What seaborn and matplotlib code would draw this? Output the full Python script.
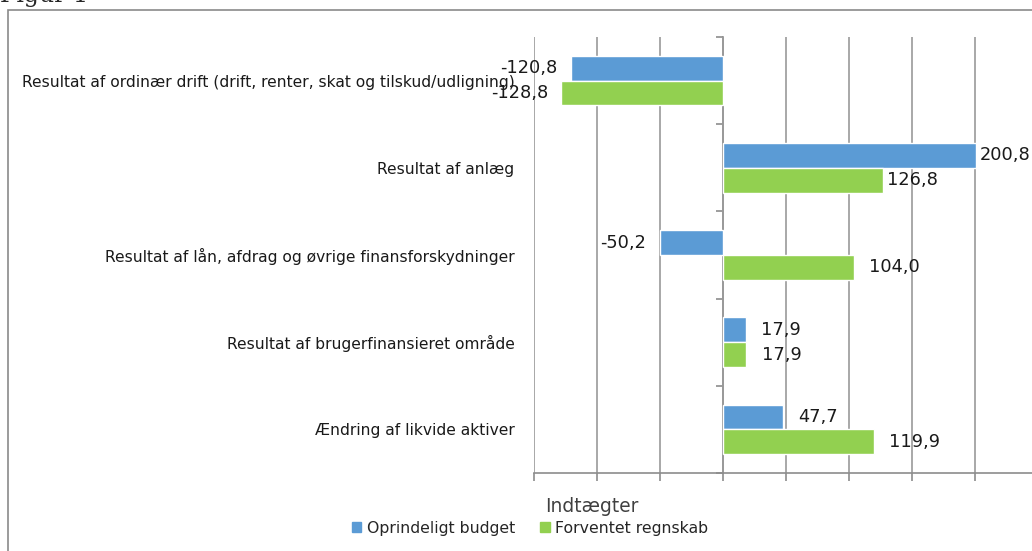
import pandas as pd
import matplotlib.pyplot as plt
import seaborn as sns
from matplotlib.patches import Rectangle

# data (mio. kr.)
categories = [
    'Resultat af ordinær drift (drift, renter, skat og tilskud/udligning)',
    'Resultat af anlæg',
    'Resultat af lån, afdrag og øvrige finansforskydninger',
    'Resultat af brugerfinansieret område',
    'Ændring af likvide aktiver',
]
budget = [-120.8, 200.8, -50.2, 17.9, 47.7]
regnskab = [-128.8, 126.8, 104.0, 17.9, 119.9]
series_names = ['Oprindeligt budget', 'Forventet regnskab']
colors = ['#5B9BD5', '#92D050']

df = pd.DataFrame({
    'kategori': categories * 2,
    'værdi': budget + regnskab,
    'serie': [series_names[0]] * 5 + [series_names[1]] * 5,
})

sns.set_style('white')
plt.rcParams['font.family'] = ['DejaVu Sans']

fig = plt.figure(figsize=(10.32, 5.51), dpi=100)
W, H = 1032, 551
ax = fig.add_axes([534 / W, 1 - 473 / H, 504 / W, 436 / H])

sns.barplot(data=df, y='kategori', x='værdi', hue='serie', palette=colors,
            orient='h', width=0.57, saturation=1, ax=ax, legend=False)

ax.set_xlim(-150, 250)
ax.set_ylim(4.5, -0.5)
ax.set_xticks(range(-150, 251, 50))
ax.set_xticklabels([])
ax.tick_params(axis='x', direction='out', length=6, color='#8c8c8c', width=1.2, bottom=True)
ax.grid(axis='x', color='#9a9a9a', linewidth=1.2)
ax.set_axisbelow(True)
for s in ['top', 'right', 'left']:
    ax.spines[s].set_visible(False)
ax.spines['bottom'].set_color('#8c8c8c')
ax.spines['bottom'].set_linewidth(1.2)

ax.set_yticks(range(len(categories)))
ax.set_yticklabels(categories, fontsize=11.2, color='#1a1a1a')
ax.tick_params(axis='y', length=0, pad=14)
ax.set_xlabel('')
ax.set_ylabel('')

# vertical axis drawn at zero with tick marks between categories
sec = ax.secondary_yaxis(150 / 400)
sec.set_yticks([-0.5, 0.5, 1.5, 2.5, 3.5, 4.5])
sec.set_yticklabels([])
sec.tick_params(direction='out', length=5, color='#8c8c8c', width=1.2)
sec.spines['left'].set_color('#8c8c8c')
sec.spines['left'].set_linewidth(1.2)

# label gaps (points), as placed in the original
pads = [[10, 3, 10, 11, 11], [9, 3, 11, 12, 11]]
for cont, pad in zip(ax.containers, pads):
    for bar, v, p in zip(cont.patches, cont.datavalues, pad):
        end = bar.get_x() + bar.get_width()
        yc = bar.get_y() + bar.get_height() / 2
        ax.annotate(f'{v:.1f}'.replace('.', ','), (end, yc),
                    xytext=(p if v >= 0 else -p, 0), textcoords='offset points',
                    ha='left' if v >= 0 else 'right', va='center',
                    fontsize=12.8, color='#1a1a1a')

ax.text(0.022, -0.055, 'Indtægter', transform=ax.transAxes, fontsize=13.4,
        color='#404040', ha='left', va='top')

handles = [Rectangle((0, 0), 1, 1, color=c) for c in colors]
fig.legend(handles, series_names, loc='center', bbox_to_anchor=(530 / W, 1 - 528 / H),
           ncol=2, frameon=False, fontsize=11.3, handlelength=0.6, handleheight=0.6,
           handletextpad=0.35, columnspacing=1.6)

# chart area border and caption cut off at the top
fig.add_artist(Rectangle((8 / W, -0.1), 1.2, 1 - 10 / H + 0.1, transform=fig.transFigure,
                         fill=False, edgecolor='#8a8a8a', linewidth=1.2))
fig.text(0.0, 1 - 2 / H, 'Figur 1', fontsize=17, family='serif', ha='left', va='baseline')

fig.savefig('out.png', dpi=100)
